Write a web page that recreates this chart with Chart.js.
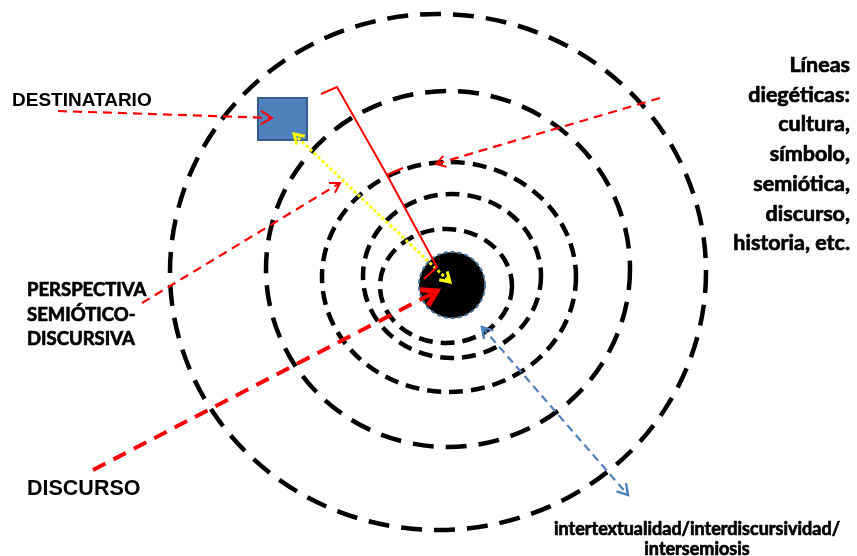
<!DOCTYPE html>
<html>
<head>
<meta charset="utf-8">
<script src="https://cdn.jsdelivr.net/npm/chart.js@4.4.1/dist/chart.umd.min.js"></script>
<style>
  html, body { margin: 0; padding: 0; background: #fff; overflow: hidden; }
  #wrap { width: 857px; height: 556px; }
</style>
</head>
<body>
<div id="wrap"><canvas id="diagram" width="857" height="556"></canvas></div>
<script>
// concentric rings (data units = picture units)
const ringCx = [438, 448, 449, 452, 446];
const ringCy = [272, 269, 277, 276, 286];
const ringRx = [268, 182, 127, 89, 66];
const ringRy = [258, 178, 115, 82, 57];
const core = { x: 452, y: 285, r: 33 };
const box = { x0: 258, y0: 98, x1: 307, y1: 140 };

// connector lines
const destinatarioLine = [{ x: 58, y: 111 }, { x: 272, y: 118 }];
const diegeticLine = [{ x: 660, y: 98 }, { x: 436, y: 164 }];
const perspectivaLine = [{ x: 142, y: 303 }, { x: 340, y: 183 }];
const discursoLine = [{ x: 93, y: 470 }, { x: 437, y: 291 }];
const bracketTop = [{ x: 321, y: 94 }, { x: 337, y: 87 }, { x: 387, y: 175 }, { x: 403, y: 168 }];
const bracketLow = [{ x: 387, y: 175 }, { x: 437, y: 267 }, { x: 424, y: 279 }];
const yellowLine = [{ x: 294, y: 134 }, { x: 450, y: 282 }];
const blueLine = [{ x: 482, y: 327 }, { x: 628, y: 495 }];

// labels
const rightLabel = ['Líneas', 'diegéticas:', 'cultura,', 'símbolo,', 'semiótica,', 'discurso,', 'historia, etc.'];
const perspectivaLabel = ['PERSPECTIVA', 'SEMIÓTICO-', 'DISCURSIVA'];
const bottomLabel = ['intertextualidad/interdiscursividad/', 'intersemiosis'];

const RED = '#ff0000';
const BLUE = '#4f81bd';

function lineSet(data, color, width, dash, extra) {
    return Object.assign({
        data: data,
        showLine: true,
        borderColor: color,
        borderWidth: width,
        borderDash: dash,
        pointRadius: 0,
        fill: false,
        tension: 0
    }, extra || {});
}

function chevron(ctx, tip, from, len, spread, width, color) {
    const a = Math.atan2(tip.y - from.y, tip.x - from.x);
    ctx.save();
    ctx.setLineDash([]);
    ctx.strokeStyle = color;
    ctx.lineWidth = width;
    ctx.lineJoin = 'miter';
    ctx.beginPath();
    ctx.moveTo(tip.x - len * Math.cos(a - spread), tip.y - len * Math.sin(a - spread));
    ctx.lineTo(tip.x, tip.y);
    ctx.lineTo(tip.x - len * Math.cos(a + spread), tip.y - len * Math.sin(a + spread));
    ctx.stroke();
    ctx.restore();
}

const ringsPlugin = {
    id: 'rings',
    beforeDatasetsDraw(chart) {
        const { ctx, scales: { x, y } } = chart;
        ctx.save();
        // rings
        ringCx.forEach((cx, i) => {
            const px = x.getPixelForValue(cx), py = y.getPixelForValue(ringCy[i]);
            const rx = Math.abs(x.getPixelForValue(cx + ringRx[i]) - px);
            const ry = Math.abs(y.getPixelForValue(ringCy[i] + ringRy[i]) - py);
            ctx.beginPath();
            ctx.ellipse(px, py, rx, ry, 0, 0, Math.PI * 2);
            ctx.strokeStyle = '#000';
            ctx.lineWidth = 4.5;
            ctx.setLineDash(i < 2 ? [21, 12] : [14, 8]);
            ctx.stroke();
        });
        // core disc
        const cx = x.getPixelForValue(core.x), cy = y.getPixelForValue(core.y);
        const cr = Math.abs(x.getPixelForValue(core.x + core.r) - cx);
        ctx.beginPath();
        ctx.arc(cx, cy, cr, 0, Math.PI * 2);
        ctx.fillStyle = '#000';
        ctx.fill();
        ctx.setLineDash([4, 3]);
        ctx.lineWidth = 2;
        ctx.strokeStyle = '#41719c';
        ctx.stroke();
        // receiver box
        const bx0 = x.getPixelForValue(box.x0), by0 = y.getPixelForValue(box.y0);
        const bx1 = x.getPixelForValue(box.x1), by1 = y.getPixelForValue(box.y1);
        ctx.setLineDash([]);
        ctx.fillStyle = BLUE;
        ctx.fillRect(bx0, by0, bx1 - bx0, by1 - by0);
        ctx.lineWidth = 2;
        ctx.strokeStyle = '#385d8a';
        ctx.strokeRect(bx0, by0, bx1 - bx0, by1 - by0);
        ctx.restore();
    }
};

const arrowsPlugin = {
    id: 'arrows',
    afterDatasetsDraw(chart) {
        const ctx = chart.ctx;
        chart.data.datasets.forEach((ds, i) => {
            const pts = chart.getDatasetMeta(i).data;
            if (!pts.length) return;
            const len = ds.arrowLen || 11, w = ds.arrowWidth || 2;
            if (ds.arrowEnd) chevron(ctx, pts[pts.length - 1], pts[pts.length - 2], len, 0.55, w, ds.borderColor);
            if (ds.arrowStart) chevron(ctx, pts[0], pts[1], len, 0.55, w, ds.borderColor);
        });
    }
};

const labelsPlugin = {
    id: 'labels',
    afterDraw(chart) {
        const { ctx, scales: { x, y } } = chart;
        const put = (text, vx, vy, font, align, heavy) => {
            const px = x.getPixelForValue(vx), py = y.getPixelForValue(vy);
            ctx.font = font;
            ctx.textAlign = align;
            ctx.fillText(text, px, py);
            if (heavy) ctx.strokeText(text, px, py);
        };
        ctx.save();
        ctx.fillStyle = '#000';
        ctx.strokeStyle = '#000';
        ctx.lineWidth = 0.7;
        ctx.textBaseline = 'alphabetic';
        put('DESTINATARIO', 12, 106, 'bold 19px "Liberation Sans", Arial', 'left');
        put('DISCURSO', 27, 495, 'bold 21.5px "Liberation Sans", Arial', 'left');
        perspectivaLabel.forEach((t, i) => put(t, 27, 296 + i * 24.5, 'bold 18.5px Lato', 'left', true));
        rightLabel.forEach((t, i) => put(t, 850, 72 + i * 29.7, 'bold 21.5px Lato', 'right', true));
        bottomLabel.forEach((t, i) => put(t, 697, 535 + i * 19.5, 'bold 18px Lato', 'center', true));
        ctx.restore();
    }
};

new Chart(document.getElementById('diagram'), {
    type: 'scatter',
    data: {
        datasets: [
            lineSet(destinatarioLine, RED, 2.2, [9, 6], { arrowEnd: true, arrowLen: 13 }),
            lineSet(diegeticLine, RED, 2.2, [9, 6], { arrowEnd: true, arrowLen: 11 }),
            lineSet(perspectivaLine, RED, 2.2, [9, 6], { arrowEnd: true, arrowLen: 11 }),
            lineSet(discursoLine, RED, 4, [14, 9], { arrowEnd: true, arrowLen: 17, arrowWidth: 5 }),
            lineSet(bracketTop, RED, 2, []),
            lineSet(bracketLow, RED, 2, []),
            lineSet(yellowLine, '#ffff00', 3, [3, 2.5], { arrowEnd: true, arrowStart: true, arrowLen: 11, arrowWidth: 3 }),
            lineSet(blueLine, BLUE, 2.2, [8, 5], { arrowEnd: true, arrowStart: true, arrowLen: 12, arrowWidth: 2.5 })
        ]
    },
    options: {
        responsive: false,
        animation: false,
        layout: { padding: 0 },
        plugins: { legend: { display: false }, tooltip: { enabled: false } },
        scales: {
            x: { type: 'linear', min: 0, max: 857, display: false },
            y: { type: 'linear', min: 0, max: 556, reverse: true, display: false }
        }
    },
    plugins: [ringsPlugin, arrowsPlugin, labelsPlugin]
});
</script>
</body>
</html>
